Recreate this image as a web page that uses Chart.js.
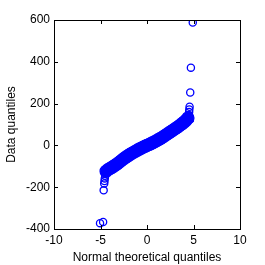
<!DOCTYPE html>
<html>
<head>
<meta charset="utf-8">
<script src="https://cdn.jsdelivr.net/npm/chart.js@4.4.1/dist/chart.umd.min.js"></script>
<style>
  html, body { margin: 0; padding: 0; background: #fff; }
  canvas { display: block; }
</style>
</head>
<body>
<canvas id="qq-plot" width="265" height="265"></canvas>
<script>
// theoretical (normal) quantiles and the matching data quantiles
const qqX = [-5.05, -4.72, -4.66, -4.6, -4.57, -4.54, -4.5, -4.47,
  -4.4, -4.2, -4.0, -3.8, -3.6, -3.4, -3.2, -3.0, -2.8, -2.6, -2.4, -2.2,
  -2.0, -1.8, -1.6, -1.4, -1.2, -1.0, -0.8, -0.6, -0.4, -0.2, 0,
  0.2, 0.4, 0.6, 0.8, 1.0, 1.2, 1.4, 1.6, 1.8, 2.0, 2.2, 2.4, 2.6, 2.8,
  3.0, 3.2, 3.4, 3.6, 3.8, 4.0, 4.2, 4.4,
  4.47, 4.5, 4.53, 4.55, 4.58, 4.65, 4.72, 4.92];
const qqY = [-372, -366, -215, -182, -170, -158, -145, -135,
  -124, -116, -111, -106, -100, -94, -88, -81, -74, -67, -60, -54,
  -48, -42, -37, -32, -27, -22, -17, -13, -8, -4, 0,
  4, 8, 13, 17, 22, 27, 32, 37, 43, 49, 55, 61, 67, 73,
  79, 85, 91, 98, 105, 112, 120, 131,
  135, 145, 160, 172, 185, 253, 372, 588];
// fitted reference line end points
const refX = [-5.05, 5.05];
const refY = [-115, 115];

const xTicks = [-10, -5, 0, 5, 10];
const yTicks = [-400, -200, 0, 200, 400, 600];

const points = qqX.map((x, i) => ({x: x, y: qqY[i]}));
const refLine = refX.map((x, i) => ({x: x, y: refY[i]}));

// box round the axes plus inward tick marks on all four sides
const boxTicks = {
  id: 'boxTicks',
  afterDraw(chart) {
    const ctx = chart.ctx, a = chart.chartArea;
    const sx = chart.scales.x, sy = chart.scales.y;
    ctx.save();
    ctx.strokeStyle = '#000';
    ctx.lineWidth = 1;
    ctx.beginPath();
    ctx.moveTo(a.left + 0.5, a.top + 0.5);
    ctx.lineTo(a.right + 0.5, a.top + 0.5);
    ctx.lineTo(a.right + 0.5, a.bottom + 0.5);
    ctx.lineTo(a.left + 0.5, a.bottom + 0.5);
    ctx.closePath();
    xTicks.forEach(v => {
      const p = Math.round(sx.getPixelForValue(v)) + 0.5;
      ctx.moveTo(p, a.bottom); ctx.lineTo(p, a.bottom - 4);
      ctx.moveTo(p, a.top); ctx.lineTo(p, a.top + 4);
    });
    yTicks.forEach(v => {
      const p = Math.round(sy.getPixelForValue(v)) + 0.5;
      ctx.moveTo(a.left, p); ctx.lineTo(a.left + 4, p);
      ctx.moveTo(a.right, p); ctx.lineTo(a.right - 4, p);
    });
    ctx.stroke();
    ctx.restore();
  }
};

const font = {family: '"Liberation Sans", Arial, sans-serif', size: 12};

new Chart(document.getElementById('qq-plot'), {
  type: 'scatter',
  data: {
    datasets: [{
      label: 'ref',
      type: 'line',
      data: refLine,
      borderColor: '#0000ff',
      borderWidth: 1,
      pointRadius: 0,
      fill: false
    }, {
      label: 'Data quantiles',
      data: points,
      borderColor: '#0000ff',
      borderWidth: 1.3,
      pointRadius: ctx => (Math.abs(qqX[ctx.dataIndex]) <= 4.45 ? 6 : 3.6),
      backgroundColor: ctx => (Math.abs(qqX[ctx.dataIndex]) <= 4.45 ? '#0000ff' : 'rgba(0,0,0,0)'),
      pointHoverRadius: 0
    }]
  },
  options: {
    responsive: false,
    animation: false,
    devicePixelRatio: 1,
    layout: {padding: {top: 20, right: 25, left: 0, bottom: 0}},
    plugins: {legend: {display: false}, tooltip: {enabled: false}},
    scales: {
      x: {
        type: 'linear',
        min: -10, max: 10,
        afterBuildTicks: s => { s.ticks = xTicks.map(v => ({value: v})); },
        afterFit: s => { s.height = 36; },
        grid: {display: false, drawTicks: false},
        border: {color: '#000'},
        ticks: {color: '#000', font: font, padding: 4, maxRotation: 0},
        title: {display: true, text: 'Normal theoretical quantiles', color: '#000', font: font, padding: {top: 2, bottom: 0}}
      },
      y: {
        type: 'linear',
        min: -400, max: 600,
        afterBuildTicks: s => { s.ticks = yTicks.map(v => ({value: v})); },
        afterFit: s => { s.width = 54; },
        grid: {display: false, drawTicks: false},
        border: {color: '#000'},
        ticks: {color: '#000', font: font, padding: 4},
        title: {display: true, text: 'Data quantiles', color: '#000', font: font, padding: {top: 4, bottom: 2}}
      }
    }
  },
  plugins: [boxTicks]
});
</script>
</body>
</html>
